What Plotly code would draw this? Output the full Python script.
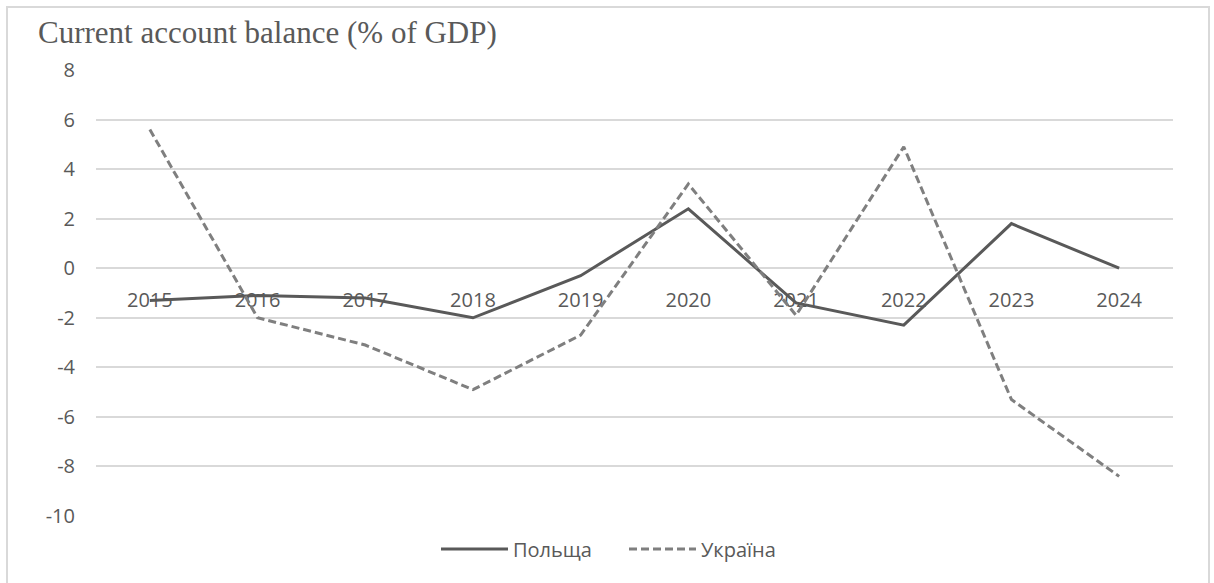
import plotly.graph_objects as go

years = ["2015", "2016", "2017", "2018", "2019", "2020", "2021", "2022", "2023", "2024"]
poland = [-1.3, -1.1, -1.2, -2.0, -0.3, 2.4, -1.4, -2.3, 1.8, 0.0]
ukraine = [5.6, -2.0, -3.1, -4.9, -2.7, 3.4, -1.9, 4.9, -5.3, -8.4]
y_ticks = [8, 6, 4, 2, 0, -2, -4, -6, -8, -10]
title_text = "Current account balance (% of GDP)"
series_names = ["Польща", "Україна"]

W, H = 1214, 583
ML, MR, MT, MB = 96, 41, 70, 67
ymin, ymax = -10, 8
pw, ph = W - ML - MR, H - MT - MB

fig = go.Figure()
fig.add_trace(go.Scatter(x=years, y=poland, name=series_names[0], mode="lines",
                         line=dict(color="#595959", width=3)))
fig.add_trace(go.Scatter(x=years, y=ukraine, name=series_names[1], mode="lines",
                         line=dict(color="#7f7f7f", width=3, dash="8px,4px")))

tick_font = dict(family="Open Sans, DejaVu Sans, sans-serif", size=20, color="#595959")


def px2paper_x(px):
    return (px - ML) / pw


def px2paper_y(py):
    return (H - MB - py) / ph


# border rectangle around the whole chart
fig.add_shape(type="rect", xref="paper", yref="paper",
              x0=px2paper_x(7), x1=px2paper_x(1209),
              y0=px2paper_y(600), y1=px2paper_y(7),
              line=dict(color="#d9d9d9", width=2), fillcolor="rgba(0,0,0,0)", layer="below")

fig.update_layout(
    width=W, height=H,
    margin=dict(l=ML, r=MR, t=MT, b=MB, autoexpand=False),
    plot_bgcolor="white", paper_bgcolor="white",
    title=dict(text=title_text, xref="container", yref="container",
               x=38 / W, xanchor="left", y=1 - 32 / H, yanchor="middle",
               font=dict(family="Liberation Serif, Times New Roman, serif", size=31, color="#595959")),
    xaxis=dict(type="category", categoryorder="array", categoryarray=years,
               range=[-0.5, len(years) - 0.5],
               anchor="free", position=(0 - ymin) / (ymax - ymin),
               showgrid=False, showline=False, zeroline=False, ticks="",
               ticklabelstandoff=18, tickfont=tick_font, layer="below traces"),
    yaxis=dict(range=[ymin, ymax], tickvals=y_ticks, ticktext=[str(v) for v in y_ticks],
               showgrid=True, gridcolor="#d9d9d9", gridwidth=1.5,
               zeroline=False, showline=False, ticks="",
               ticklabelstandoff=20, tickfont=tick_font),
    legend=dict(orientation="h", xref="container", yref="container",
                x=0.514, xanchor="center", y=(H - 549) / H, yanchor="middle",
                font=tick_font, itemwidth=67, entrywidth=106, entrywidthmode="pixels",
                traceorder="normal"),
    showlegend=True,
)

fig.write_html("out.html", config={"displayModeBar": False},
               post_script="document.body.style.margin='0';document.body.style.padding='0';")
